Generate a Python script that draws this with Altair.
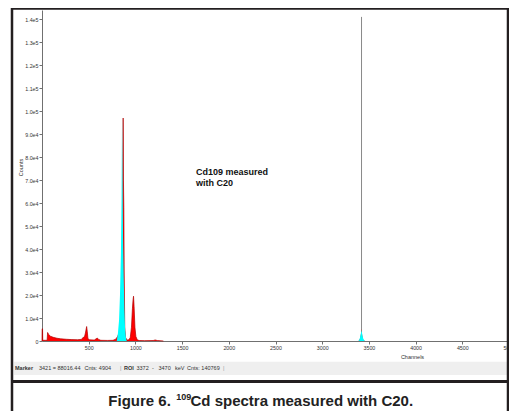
import altair as alt
import pandas as pd

# ---------------- data ----------------
red_channels = [0, 2, 6, 8, 40, 55, 60, 70, 90, 120, 160, 200, 260, 320, 380, 420, 440, 455, 465, 478,
                485, 492, 510, 560, 580, 592, 605, 630, 700, 760, 790, 810, 825, 840, 852, 860, 866,
                869, 872, 876, 880, 886, 895, 910, 930, 945, 958, 968, 975, 980, 986, 995, 1005,
                1020, 1040, 1100, 1190, 1212, 1235, 1300, 3390, 3405, 3415, 3421, 3428, 3440, 3460, 5000]
red_counts = [0, 5300, 5300, 300, 300, 300, 3700, 2900, 2100, 1600, 1200, 950, 750, 600, 550, 700, 1500, 1800, 3500, 6300,
              4000, 1000, 500, 400, 1000, 1300, 700, 300, 250, 300, 800, 2000, 3500, 4500, 10000, 40000, 80000,
              97000, 70000, 58000, 30000, 6000, 1500, 400, 500, 1500, 6000, 14000, 18000, 19500, 15000, 6000, 2000,
              500, 200, 150, 200, 450, 200, 0, 0, 1000, 3000, 5200, 2500, 300, 0, 0]

cyan_channels = [0, 800, 812, 825, 835, 845, 852, 857, 862, 868, 875, 882, 890, 900, 908,
                 3385, 3395, 3405, 3415, 3421, 3428, 3438, 3450, 3460, 5000]
cyan_counts = [0, 0, 3000, 9000, 20000, 38000, 62000, 97500, 70000, 45000, 28000, 14000, 5000, 1000, 0,
               0, 300, 1500, 3500, 4900, 3000, 1200, 200, 0, 0]

marker_channel = [3421]
marker_top = [141000]

x_ticks = [500, 1000, 1500, 2000, 2500, 3000, 3500, 4000, 4500, 5000]
y_ticks = [0, 10000, 20000, 30000, 40000, 50000, 60000, 70000, 80000, 90000,
           100000, 110000, 120000, 130000, 140000]

caption_main = "Figure 6."
caption_sup = "109"
caption_rest = "Cd spectra measured with C20."
note_lines = ["Cd109 measured", "with C20"]

red_df = pd.DataFrame({"channel": red_channels, "counts": red_counts})
cyan_df = pd.DataFrame({"channel": cyan_channels, "counts": cyan_counts})
marker_df = pd.DataFrame({"channel": marker_channel, "bottom": [0], "top": marker_top})

FONT = "Liberation Sans"
AX = "#707070"
TXT = "#333333"
BORDER = "#231f20"
DX = 1  # shift of decorations relative to plot origin

x_scale = alt.Scale(domain=[0, 5000], nice=False, zero=False)
y_scale = alt.Scale(domain=[0, 144000], nice=False)

x_axis = alt.Axis(values=x_ticks, format="d", title="Channels", titleX=369 + DX, titleY=15,
                  titleBaseline="middle", titleFontSize=5.5, titleFontWeight="normal",
                  titleFont=FONT, titleColor=TXT, labelFont=FONT, labelFontSize=5.3,
                  labelColor=TXT, tickSize=3, labelPadding=1, grid=False,
                  domainColor=AX, tickColor=AX, labelFlush=False, labelOverlap=False)
y_axis = alt.Axis(values=y_ticks, title="Counts", titleX=-23 + DX, titleY=157, titleAngle=-90,
                  titleBaseline="middle", titleAlign="center", titleFontSize=5.5,
                  titleFontWeight="normal", titleFont=FONT, titleColor=TXT,
                  labelFont=FONT, labelFontSize=5.3, labelColor=TXT, tickSize=3,
                  labelPadding=1, grid=False, domainColor=AX, tickColor=AX,
                  labelOverlap=False,
                  labelExpr="datum.value == 0 ? '0' : (datum.value >= 100000 ? format(datum.value / 100000, '.1f') + 'e5' : format(datum.value / 10000, '.1f') + 'e4')")

marker = alt.Chart(marker_df).mark_rule(color="#8a8a8a", strokeWidth=1).encode(
    x=alt.X("channel:Q", scale=x_scale, axis=x_axis),
    y=alt.Y("bottom:Q", scale=y_scale, axis=y_axis),
    y2="top:Q",
)
red_area = alt.Chart(red_df).mark_area(color="#ff0000", interpolate="linear").encode(
    x=alt.X("channel:Q", scale=x_scale, axis=x_axis),
    y=alt.Y("counts:Q", scale=y_scale, axis=y_axis),
)
red_line = alt.Chart(red_df).transform_filter("datum.channel <= 1300").mark_line(
    color="#b00000", strokeWidth=0.7, interpolate="linear").encode(
    x=alt.X("channel:Q", scale=x_scale, axis=x_axis),
    y=alt.Y("counts:Q", scale=y_scale, axis=y_axis),
)
cyan_area = alt.Chart(cyan_df).mark_area(color="#00ffff", interpolate="linear").encode(
    x=alt.X("channel:Q", scale=x_scale, axis=x_axis),
    y=alt.Y("counts:Q", scale=y_scale, axis=y_axis),
)

deco = alt.Data(values=[{"a": 1}])


def hrule(x1, x2, y, color, width):
    return alt.Chart(deco).mark_rule(color=color, strokeWidth=width).encode(
        x=alt.value(x1 + DX), x2=alt.value(x2 + DX), y=alt.value(y))


def vrule(x, y1, y2, color, width):
    return alt.Chart(deco).mark_rule(color=color, strokeWidth=width).encode(
        x=alt.value(x + DX), y=alt.value(y1), y2=alt.value(y2))


def label(s, x, y, size=5.5, weight="normal", color=TXT, baseline="middle"):
    return alt.Chart(deco).mark_text(text=s, align="left", baseline=baseline, fontSize=size,
                                     font=FONT, fontWeight=weight, color=color).encode(
        x=alt.value(x + DX), y=alt.value(y))


status_bg = alt.Chart(deco).mark_rect(color="#efefef").encode(
    x=alt.value(-29 + DX), x2=alt.value(466 + DX), y=alt.value(351.7), y2=alt.value(365))

layers = [
    status_bg,
    marker, red_area, red_line, cyan_area,
    label(note_lines[0], 153, 161.7, size=9, weight="bold", color="#111111"),
    label(note_lines[1], 153, 172.7, size=9, weight="bold", color="#111111"),
    label("Marker", -28, 357.5, weight="bold"),
    label("3421 = 88016.44", -4, 357.5),
    label("Cnts:  4904", 41.5, 357.5),
    label("|", 77, 357.5, color="#a0a0a0"),
    label("ROI", 81, 357.5, weight="bold"),
    label("3372", 93.5, 357.5),
    label("-", 109, 357.5),
    label("3470", 115.5, 357.5),
    label("keV", 132, 357.5),
    label("Cnts:  140769", 144, 357.5),
    label("|", 180, 357.5, color="#a0a0a0"),
    hrule(-32, 470, -1.5, BORDER, 2.5),
    vrule(-31, -3, 405, BORDER, 2.5),
    vrule(465, -3, 405, BORDER, 2.5),
    hrule(-32, 470, 371.5, BORDER, 3),
    label(caption_main, 65.3, 396, size=15, weight="bold", color="#222222", baseline="alphabetic"),
    label(caption_sup, 133.2, 390, size=9, weight="bold", color="#222222", baseline="alphabetic"),
    label(caption_rest, 147.5, 396, size=15, weight="bold", color="#222222", baseline="alphabetic"),
]

chart = alt.layer(*layers).properties(
    width=467, height=331,
    padding={"left": 34, "top": 2, "right": 0, "bottom": 70},
    autosize="none",
    background="white",
).configure_view(stroke="transparent")

chart.save("out.html", embed_options={"renderer": "svg", "actions": False})
